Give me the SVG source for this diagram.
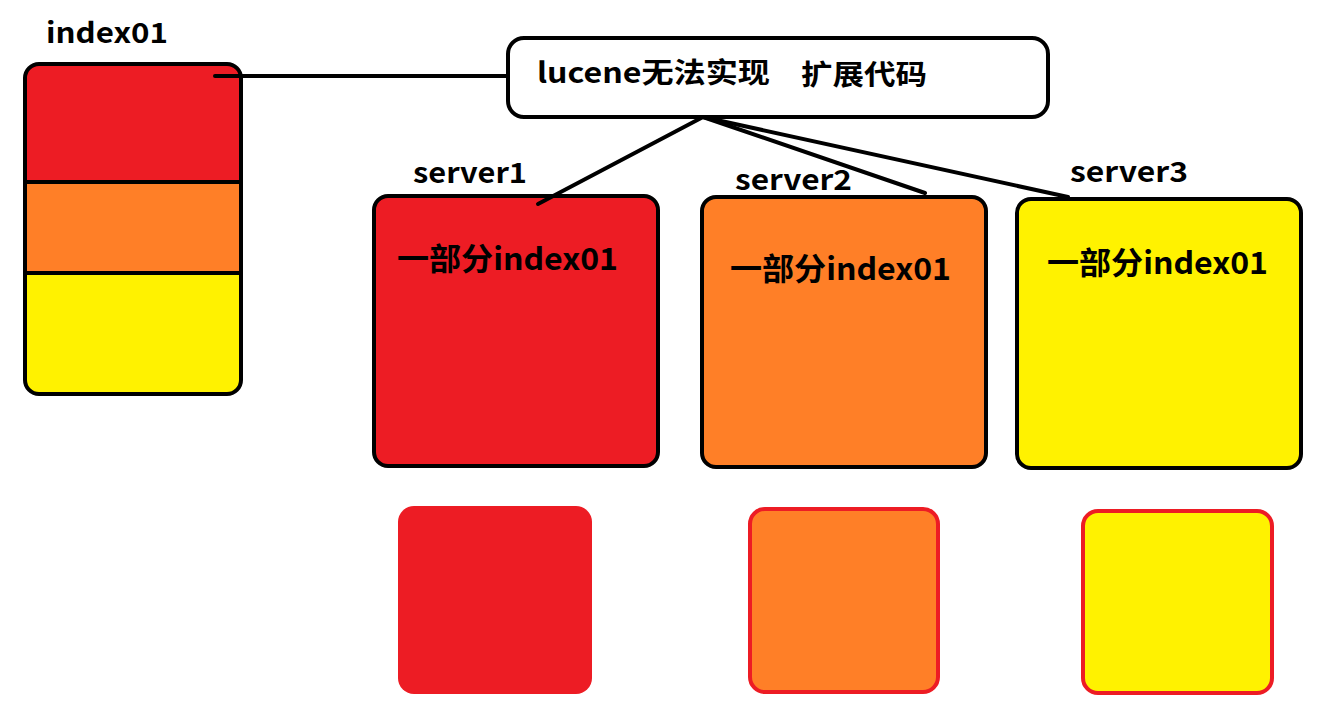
<svg xmlns="http://www.w3.org/2000/svg" width="1324" height="709" viewBox="0 0 1324 709">
<style>
text{font-family:"Noto Sans CJK SC","Noto Sans",sans-serif;font-weight:bold;fill:#000}
.lbl{font-size:28px}
.in{font-size:31px}
.blk{stroke:#000;stroke-width:4}
.conn{stroke:#000;stroke-width:4;stroke-linecap:round;fill:none}
.red{fill:#ED1C24}
.org{fill:#FF7F27}
.yel{fill:#FFF200}
.rb{stroke:#ED1C24;stroke-width:4}
</style>
<rect width="1324" height="709" fill="#fff"/>
<g id="index01">
<text class="lbl" x="46" y="43" textLength="122" lengthAdjust="spacingAndGlyphs">index01</text>
<rect x="25" y="64" width="216" height="330" rx="14" fill="#FFF200"/>
<path d="M25 78 Q25 64 39 64 H227 Q241 64 241 78 V182 H25 Z" class="red"/>
<rect x="25" y="182" width="216" height="91" class="org"/>
<line x1="25" y1="182" x2="241" y2="182" class="blk"/>
<line x1="25" y1="273" x2="241" y2="273" class="blk"/>
<rect x="25" y="64" width="216" height="330" rx="14" fill="none" class="blk"/>
</g>
<g id="callout">
<rect x="508" y="38" width="540" height="79" rx="16" fill="#fff" class="blk"/>
<text class="lbl" x="537" y="83" textLength="233" lengthAdjust="spacingAndGlyphs">lucene无法实现</text>
<text class="lbl" x="801" y="85" textLength="126" lengthAdjust="spacingAndGlyphs">扩展代码</text>
</g>
<g id="server1">
<text class="lbl" x="413" y="183" textLength="114" lengthAdjust="spacingAndGlyphs">server1</text>
<rect x="374" y="196" width="284" height="270" rx="14" class="red blk"/>
<text class="in" x="397" y="270" textLength="221" lengthAdjust="spacingAndGlyphs">一部分index01</text>
</g>
<g id="server2">
<text class="lbl" x="735" y="190" textLength="117" lengthAdjust="spacingAndGlyphs">server2</text>
<rect x="702" y="197" width="284" height="270" rx="14" class="org blk"/>
<text class="in" x="730" y="280" textLength="221" lengthAdjust="spacingAndGlyphs">一部分index01</text>
</g>
<g id="server3">
<text class="lbl" x="1070" y="182" textLength="118" lengthAdjust="spacingAndGlyphs">server3</text>
<rect x="1017" y="199" width="284" height="269" rx="14" class="yel blk"/>
<text class="in" x="1047" y="274" textLength="221" lengthAdjust="spacingAndGlyphs">一部分index01</text>
</g>
<g id="part1">
<rect x="398" y="506" width="194" height="188" rx="16" class="red"/>
</g>
<g id="part2">
<rect x="750" y="509" width="188" height="183" rx="15" class="org rb"/>
</g>
<g id="part3">
<rect x="1083" y="511" width="189" height="182" rx="15" class="yel rb"/>
</g>
<g id="connectors">
<line class="conn" x1="215" y1="76" x2="507" y2="76"/>
<line class="conn" x1="703" y1="117" x2="538" y2="204"/>
<line class="conn" x1="703" y1="117" x2="925" y2="193"/>
<line class="conn" x1="703" y1="117" x2="1068" y2="197"/>
</g>
</svg>
